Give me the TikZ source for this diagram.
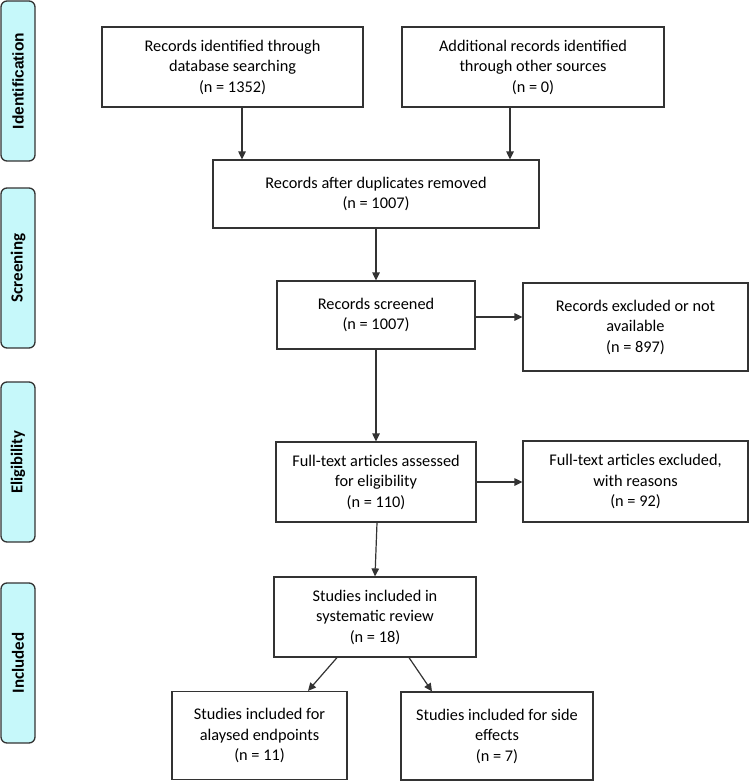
\documentclass[tikz,border=0pt]{standalone}
\usepackage{fontspec}
\setmainfont{Carlito}
\newfontfamily\sidefont{Liberation Sans}
\usetikzlibrary{arrows.meta}
\definecolor{sidefill}{HTML}{C6F8FA}
\definecolor{edge}{HTML}{333333}
\tikzset{
  box/.style={draw=edge, line width=1.2pt, fill=white, align=center, inner sep=0pt,
    font=\fontsize{16.3}{20.5}\selectfont},
  side/.style={draw=edge, line width=1.3pt, fill=sidefill, rounded corners=6pt,
    minimum width=34pt, minimum height=160pt, inner sep=0pt},
  sidetext/.style={rotate=90, font=\bfseries\fontsize{17}{19}\selectfont},
  arr/.style={draw=edge, line width=1.2pt, -{Triangle[length=8pt,width=7.5pt]}}
}
\begin{document}
\begin{tikzpicture}[x=1pt,y=-1pt]
\useasboundingbox (0,0) rectangle (751,781);
% side labels
\node[side] (s1) at (18,81) {};
\node[sidetext, font=\sidefont\bfseries\fontsize{15.5}{17}\selectfont] (t1) at (s1.center) {Identification};
\node[side] (s2) at (18,268) {};
\node[sidetext] (t2) at (s2.center) {Screening};
\node[side] (s3) at (18,462) {};
\node[sidetext, font=\bfseries\fontsize{16.6}{19}\selectfont] (t3) at (s3.center) {Eligibility};
\node[side] (s4) at (18,663) {};
\node[sidetext] (t4) at (s4.center) {Included};
% boxes
\node[box, minimum width=261pt, minimum height=80pt] (id1) at (232.5,67)
  {Records identified through\\database searching\\(n = 1352)};
\node[box, minimum width=262pt, minimum height=80pt] (id2) at (533,67)
  {Additional records identified\\through other sources\\(n = 0)};
\node[box, minimum width=326pt, minimum height=68pt] (dup) at (376,194)
  {Records after duplicates removed\\(n = 1007)};
\node[box, minimum width=198pt, minimum height=68pt] (scr) at (376,315)
  {Records screened\\(n = 1007)};
\node[box, minimum width=225pt, minimum height=88pt] (exc) at (635.5,327)
  {Records excluded or not\\available\\(n = 897)};
\node[box, minimum width=200pt, minimum height=80pt] (ft) at (376,482)
  {Full-text articles assessed\\for eligibility\\(n = 110)};
\node[box, minimum width=225pt, minimum height=81pt] (ftx) at (635.5,481.5)
  {Full-text articles excluded,\\with reasons\\(n = 92)};
\node[box, minimum width=202pt, minimum height=80pt] (inc) at (375,617)
  {Studies included in\\systematic review\\(n = 18)};
\node[box, minimum width=175pt, minimum height=88pt] (incA) at (259.5,735.5)
  {Studies included for\\alaysed endpoints\\(n = 11)};
\node[box, minimum width=192pt, minimum height=88pt] (incB) at (497,736)
  {Studies included for side\\effects\\(n = 7)};
% connectors
\draw[arr] ([xshift=9.5pt]id1.south) -- ([xshift=9.5pt]id1.south |- dup.north);
\draw[arr] ([xshift=-23pt]id2.south) -- ([xshift=-23pt]id2.south |- dup.north);
\draw[arr] (dup.south) -- (dup.south |- scr.north);
\draw[arr] ([yshift=-2pt]scr.east) -- ([yshift=-2pt]scr.east -| exc.west);
\draw[arr] (scr.south) -- (scr.south |- ft.north);
\draw[arr] (ft.east) -- (ft.east -| ftx.west);
\draw[arr] ([xshift=1pt]ft.south) -- (inc.north);
\draw[arr] ([xshift=-38pt]inc.south) -- ([xshift=48.5pt]incA.north);
\draw[arr] ([xshift=34pt]inc.south) -- ([xshift=-65pt]incB.north);
\end{tikzpicture}
\end{document}
